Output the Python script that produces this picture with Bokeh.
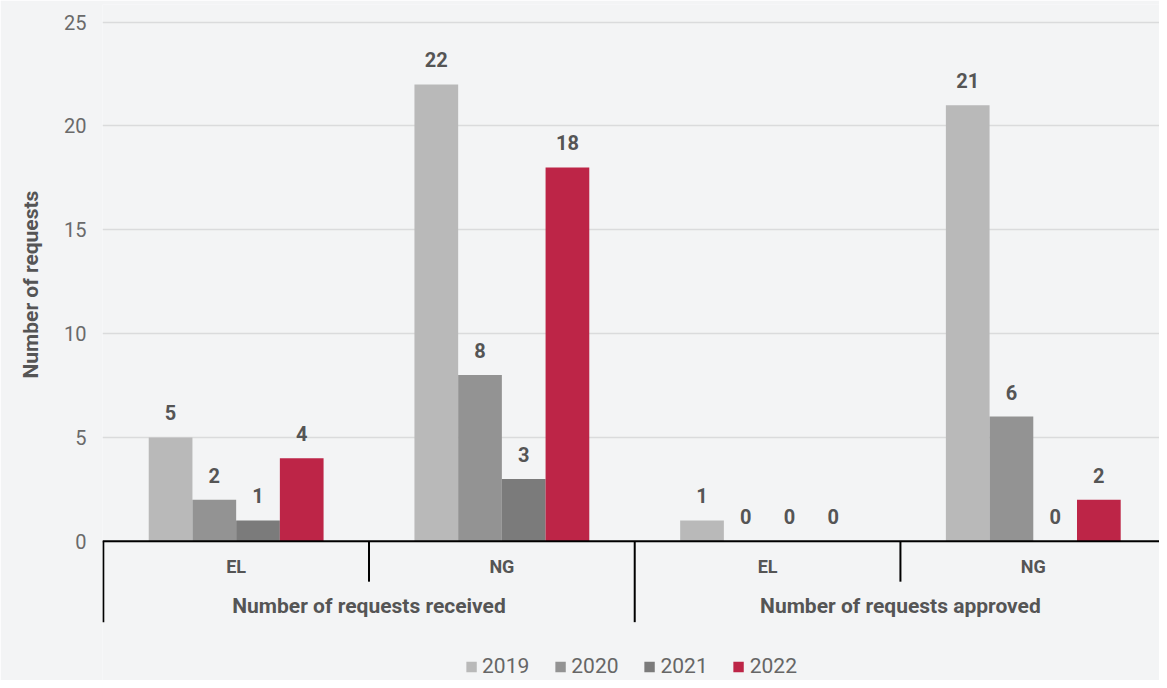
from bokeh.plotting import figure
from bokeh.models import ColumnDataSource, FixedTicker, Span, Title, Legend, LegendItem, Range1d
from bokeh.core.properties import value
from bokeh.embed import file_html
from bokeh.resources import INLINE

# ---- data ----
groups = ["Number of requests received", "Number of requests approved"]
subcats = ["EL", "NG", "EL", "NG"]
years = ["2019", "2020", "2021", "2022"]
vals_2019 = [5, 22, 1, 21]
vals_2020 = [2, 8, 0, 6]
vals_2021 = [1, 3, 0, 0]
vals_2022 = [4, 18, 0, 2]
y_ticks = [0, 5, 10, 15, 20, 25]

series = [vals_2019, vals_2020, vals_2021, vals_2022]
colors = ["#b9b9b9", "#939393", "#7b7b7b", "#bd2547"]
TXT = "#555555"
FONT = "Roboto"
BG = "#f3f4f5"

p = figure(width=1159, height=680, output_backend="svg", toolbar_location=None,
           x_axis_location=None, min_border_left=102, min_border_right=0,
           min_border_top=4, min_border_bottom=0,
           x_range=Range1d(-0.003, 3.975), y_range=Range1d(-6.71, 25.85))
p.background_fill_color = BG
p.border_fill_color = BG
p.outline_line_color = None

bw = 0.1645
renderers = []
for k, (vals, col) in enumerate(zip(series, colors)):
    xs = [i + 0.5 + (k - 1.5) * bw for i in range(len(vals))]
    src = ColumnDataSource(dict(x=xs, top=vals, lab=[str(v) for v in vals]))
    r = p.vbar(x="x", top="top", width=bw, bottom=0, source=src, fill_color=col, line_color=None)
    renderers.append(r)
    p.text(x="x", y="top", text="lab", source=src, text_align="center", text_baseline="bottom",
           y_offset=-17, text_font=value(FONT), text_font_style="bold", text_font_size="20px",
           text_color=TXT)

# grid / axes
p.xgrid.visible = False
p.ygrid.ticker = FixedTicker(ticks=y_ticks)
p.ygrid.grid_line_color = "#dadbdc"
p.ygrid.grid_line_width = 1.5
p.yaxis.ticker = FixedTicker(ticks=y_ticks)
p.yaxis.axis_line_color = None
p.yaxis.major_tick_line_color = None
p.yaxis.minor_tick_line_color = None
p.yaxis.major_tick_out = 0
p.yaxis.major_label_standoff = 16
p.yaxis.major_label_text_font = FONT
p.yaxis.major_label_text_font_size = "20px"
p.yaxis.major_label_text_color = "#6a6a6a"

p.add_layout(Span(location=0, dimension="width", line_color="black", line_width=2))

# category separators
p.segment(x0=[0, 1, 2, 3], y0=[0, 0, 0, 0], x1=[0, 1, 2, 3], y1=[-3.9, -1.95, -3.9, -1.95],
          line_color="black", line_width=2)

# category labels
p.text(x=[i + 0.5 for i in range(len(subcats))], y=[-1.24] * len(subcats), text=subcats,
       text_align="center", text_baseline="middle", text_font=value(FONT),
       text_font_style="bold", text_font_size="18px", text_color=TXT)
p.text(x=[1.0 + 2 * j for j in range(len(groups))], y=[-3.1] * len(groups), text=groups,
       text_align="center", text_baseline="middle", text_font=value(FONT),
       text_font_style="bold", text_font_size="21px", text_color=TXT)

# y axis title
p.add_layout(Title(text="Number of requests", align="left", offset=302, standoff=34,
                   vertical_align="top",
                   text_font=FONT, text_font_style="bold", text_font_size="21px",
                   text_color=TXT), "left")

legend = Legend(items=[LegendItem(label=y, renderers=[r]) for y, r in zip(years, renderers)],
                orientation="horizontal", location="bottom_center",
                glyph_width=13, glyph_height=13, label_standoff=5, spacing=24,
                label_text_font=FONT, label_text_font_size="21px", label_text_color="#666666",
                background_fill_alpha=0, border_line_color=None, padding=0, margin=2)
p.add_layout(legend)

open("out.html", "w").write(file_html(p, INLINE))
